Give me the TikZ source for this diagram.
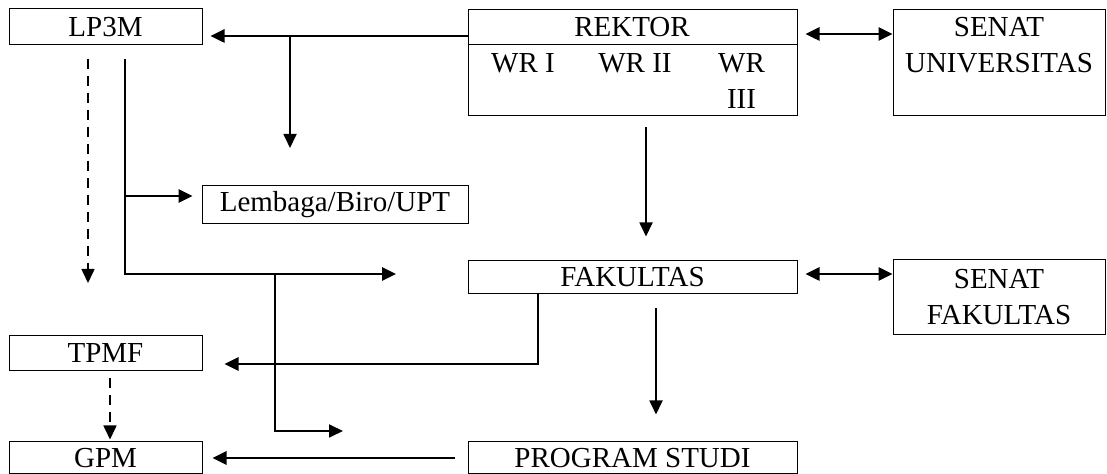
\documentclass[tikz,border=0pt]{standalone}
\usepackage{fontspec}
\setmainfont{Liberation Serif}
\usetikzlibrary{arrows.meta}

\begin{document}
\begin{tikzpicture}[x=0.5pt,y=-0.5pt,
  kotak/.style={draw,line width=0.5pt,inner sep=0pt,align=center,font=\fontsize{14.5}{18}\selectfont},
  teks/.style={inner sep=0pt,align=center,font=\fontsize{14.5}{18}\selectfont},
  >={Triangle[length=7pt,width=6.5pt]},
  tebal/.style={line width=1.3pt},
  sedang/.style={line width=0.9pt},
  putus/.style={line width=0.8pt,dash pattern=on 5pt off 3.5pt}]
\useasboundingbox (0,0) rectangle (1107,474);

% kotak
\node[kotak,minimum width=96.5pt,minimum height=18pt] (lp3m) at (105.5,27) {LP3M};
\node[kotak,minimum width=164.5pt,minimum height=53pt] (rektor) at (632.5,63) {};
\draw[line width=0.5pt] (rektor.west |- 0,45) -- (rektor.east |- 0,45);
\node[teks] (rektortxt) at (632,27.5) {REKTOR};
\node[teks] (wr1) at (523,63) {WR I};
\node[teks] (wr2) at (635,63) {WR II};
\node[teks] (wr3) at (741.5,81.5) {WR\\III};
\node[kotak,minimum width=106pt,minimum height=53pt] (senatu) at (999,63) {};
\node[teks] (senatutxt) at (999,45) {SENAT\\UNIVERSITAS};
\node[kotak,minimum width=133pt,minimum height=19pt] (lembaga) at (335,205) {Lembaga/Biro/UPT};
\node[kotak,minimum width=164.5pt,minimum height=16.5pt] (fakultas) at (632.5,277.5) {FAKULTAS};
\node[kotak,minimum width=106pt,minimum height=37.5pt] (senatf) at (999,297.5) {SENAT\\FAKULTAS};
\node[kotak,minimum width=96.5pt,minimum height=17.5pt] (tpmf) at (105.5,353.5) {TPMF};
\node[kotak,minimum width=96.5pt,minimum height=16pt] (gpm) at (105.5,458) {GPM};
\node[kotak,minimum width=164.5pt,minimum height=16pt] (prodi) at (632.5,458) {PROGRAM STUDI};

% titik bantu
\coordinate (y1) at (0,36);
\coordinate (y2) at (0,34);
\coordinate (y3) at (0,274);
\coordinate (y4) at (0,364);
\coordinate (j1) at (290,36);
\coordinate (e1) at (290,148);
\coordinate (d1) at (88,59);
\coordinate (d2) at (88,283);
\coordinate (a1) at (125,59);
\coordinate (a2) at (396,274);
\coordinate (a3) at (125,196);
\coordinate (b1) at (275,274);
\coordinate (b2) at (343,431);
\coordinate (c1) at (646,0);
\coordinate (c2) at (538,0);
\coordinate (c3) at (656,0);
\coordinate (c4) at (110,0);

% panah
\draw[tebal,->,shorten >=4pt] (rektor.west |- y1) -- (lp3m.east |- y1);
\draw[sedang,->] (j1) -- (e1);
\draw[putus,->] (d1) -- (d2);
\draw[tebal,->] (a1) |- (a2);
\draw[tebal,->,shorten >=4.5pt] (a3) -- (lembaga.west |- a3);
\draw[sedang,->] (b1) |- (b2);
\draw[sedang,->,shorten <=5.5pt,shorten >=12pt] (rektor.south -| c1) -- (fakultas.north -| c1);
\draw[tebal,<->,shorten <=4pt] (rektor.east |- y2) -- (senatu.west |- y2);
\draw[tebal,<->,shorten <=4pt] (fakultas.east |- y3) -- (senatf.west |- y3);
\draw[tebal,->,shorten >=11pt] (fakultas.south -| c2) |- (tpmf.east |- y4);
\draw[sedang,->,shorten <=7pt,shorten >=13.5pt] (fakultas.south -| c3) -- (prodi.north -| c3);
\draw[tebal,->,shorten <=6.5pt,shorten >=5pt] (prodi.west) -- (gpm.east);
\draw[putus,->,shorten <=3.5pt,shorten >=1pt] (tpmf.south -| c4) -- (gpm.north -| c4);
\end{tikzpicture}
\end{document}
